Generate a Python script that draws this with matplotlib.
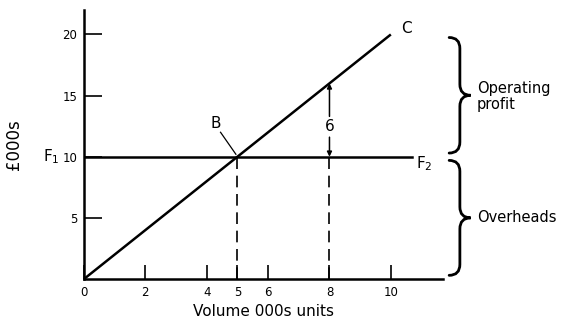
import numpy as np
import matplotlib
matplotlib.use("Agg")
import matplotlib.pyplot as plt
from matplotlib.path import Path
from matplotlib.patches import PathPatch

# break-even chart values ('000s)
volume = [0, 10]
cost_line = [0, 20]          # line C
overheads = 10               # F1 - F2
breakeven_x = 5
profit_x = 8
profit_top = 16
xticks = [0, 2, 4, 5, 6, 8, 10]
yticks = [5, 10, 15, 20]

plt.rcParams['font.family'] = ['DejaVu Sans']
fig = plt.figure(figsize=(5.68, 3.22), dpi=100)
ax = fig.add_axes([84 / 568, 43 / 322, 359 / 568, 269 / 322])
ax.set_xlim(0, 11.7)
ax.set_ylim(0, 22)

lw = 1.8
ax.plot(volume, cost_line, color="black", lw=lw, solid_capstyle="butt")
ax.plot([0, 10.7], [overheads, overheads], color="black", lw=lw)
ax.plot([breakeven_x, breakeven_x], [0, overheads], color="black", lw=1.2,
        dashes=(7, 4))
ax.plot([profit_x, profit_x], [0, overheads], color="black", lw=1.2,
        dashes=(7, 4))

# profit arrows at x=8
ax.annotate("", xy=(profit_x, profit_top), xytext=(profit_x, 13.3),
            arrowprops=dict(arrowstyle="-|>", color="black", lw=1.1,
                            mutation_scale=7, shrinkA=0, shrinkB=0))
ax.annotate("", xy=(profit_x, overheads), xytext=(profit_x, 11.6),
            arrowprops=dict(arrowstyle="-|>", color="black", lw=1.1,
                            mutation_scale=7, shrinkA=0, shrinkB=0))
ax.text(profit_x, 12.5, "6", ha="center", va="center", fontsize=11)

# B label with leader
ax.plot([4.45, 4.95], [12.0, 10.2], color="black", lw=0.9)
ax.text(4.3, 12.7, "B", ha="center", va="center", fontsize=11)
ax.text(10.5, 20.5, "C", ha="center", va="center", fontsize=11)
ax.text(11.1, 9.4, "F$_2$", ha="center", va="center", fontsize=11)
ax.text(-1.05, 10.0, "F$_1$", ha="center", va="center", fontsize=11,
        clip_on=False)

for s in ["top", "right"]:
    ax.spines[s].set_visible(False)
for s in ["left", "bottom"]:
    ax.spines[s].set_linewidth(1.8)

ax.set_xticks(xticks)
ax.set_xticklabels([str(v) for v in xticks], fontsize=8.5)
ax.set_yticks(yticks)
ax.set_yticklabels([str(v) for v in yticks], fontsize=8.5)
ax.tick_params(axis="x", direction="in", length=10, width=1.2, pad=5)
ax.tick_params(axis="y", direction="in", length=13, width=1.2, pad=5)
ax.set_xlabel("Volume 000s units", fontsize=11, labelpad=4)
ax.set_ylabel("£000s", fontsize=12, labelpad=28)


def brace(ax, x, y0, y1, w=0.35, d=0.9):
    ym = (y0 + y1) / 2
    verts = [(x - w, y1), (x, y1), (x, y1 - d), (x, y1 - d),
             (x, ym + d), (x, ym + d), (x, ym), (x + w, ym),
             (x, ym), (x, ym - d), (x, ym - d),
             (x, y0 + d), (x, y0 + d), (x, y0), (x - w, y0)]
    codes = [Path.MOVETO, Path.CURVE3, Path.CURVE3, Path.LINETO,
             Path.LINETO, Path.LINETO, Path.CURVE3, Path.CURVE3,
             Path.CURVE3, Path.CURVE3, Path.LINETO,
             Path.LINETO, Path.LINETO, Path.CURVE3, Path.CURVE3]
    p = PathPatch(Path(verts, codes), fill=False, lw=2.0, color="black",
                  clip_on=False, capstyle="round")
    ax.add_patch(p)


brace(ax, 12.25, 10.3, 19.75)
brace(ax, 12.25, 0.3, 9.7)
ax.text(12.8, 14.9, "Operating\nprofit", ha="left", va="center",
        fontsize=10.5, linespacing=1.1, clip_on=False)
ax.text(12.8, 5.0, "Overheads", ha="left", va="center", fontsize=10.5,
        clip_on=False)

fig.savefig("out.png", dpi=100)
